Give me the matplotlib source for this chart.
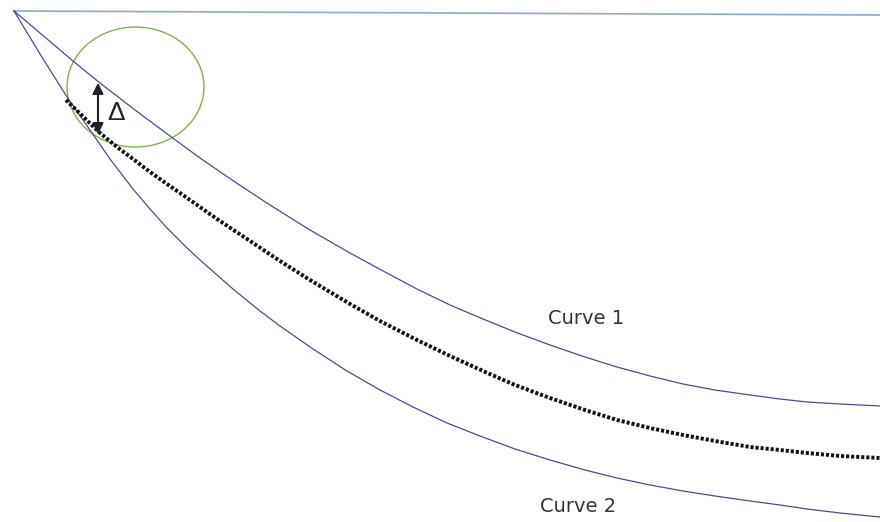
import matplotlib.pyplot as plt
from matplotlib.patches import Ellipse

# reference line along the top
top_x = [14, 880]
top_y = [11, 15]

# upper bound
curve1_x = [14, 40, 73, 100, 135, 170, 200, 235, 270, 310, 350, 385, 417, 450, 483,
            515, 550, 585, 617, 650, 683, 715, 750, 780, 807, 840, 880]
curve1_y = [11, 33, 61, 83, 110, 136, 158, 182, 205, 230, 253, 272, 289, 305, 319,
            332, 345, 357, 367, 376, 384, 390, 395, 399, 402, 404, 406]

# lower bound
curve2_x = [14, 40, 67, 90, 110, 133, 150, 167, 185, 200, 233, 260, 280, 313, 347,
            380, 413, 447, 480, 515, 550, 585, 617, 650, 683, 715, 750, 780, 807,
            840, 880]
curve2_y = [11, 54, 97, 130, 159, 189, 209, 228, 246, 260, 289, 311, 326, 349, 371,
            390, 407, 423, 436, 449, 460, 470, 478, 485, 491, 496, 501, 505, 509,
            513, 517]

# measured path between the two bounds
path_x = [66, 100, 117, 133, 150, 167, 190, 217, 250, 280, 310, 330, 350, 380, 417,
          450, 483, 515, 550, 585, 617, 650, 683, 715, 750, 780, 807, 840, 880]
path_y = [100, 133, 147, 159, 172, 184, 200, 219, 241, 261, 280, 292, 304, 321, 340,
          356, 371, 385, 398, 410, 420, 428, 435, 441, 447, 450, 453, 456, 458]

fig = plt.figure(figsize=(8.8, 5.22), dpi=100, facecolor='white')
ax = fig.add_axes([0, 0, 1, 1])
ax.set_xlim(0, 880)
ax.set_ylim(522, 0)
ax.axis('off')

ax.plot(top_x, top_y, color='#8fa9c7', lw=1.2)
ax.plot(curve1_x, curve1_y, color='#4a4c92', lw=0.9)
ax.plot(curve2_x, curve2_y, color='#4a4c92', lw=0.9)
ax.plot(path_x, path_y, color='#111111', lw=2.8, linestyle=(0, (0.8, 0.5)))

# zoomed region around the start of the gap
ax.add_patch(Ellipse((135.5, 87), 137, 120, fill=False, edgecolor='#7fb24a', lw=1.0))
ax.annotate('', xy=(98, 80), xytext=(98, 137),
            arrowprops=dict(arrowstyle='<|-|>', color='#222222', lw=1.5, mutation_scale=16))
ax.text(116, 113, 'Δ', fontsize=19, family='Liberation Sans', color='#222222',
        ha='center', va='center')

ax.text(586, 318, 'Curve 1', fontsize=14, color='#333333', ha='center', va='center')
ax.text(578, 507, 'Curve 2', fontsize=14, color='#333333', ha='center', va='center')

fig.savefig('out.png', dpi=100)
